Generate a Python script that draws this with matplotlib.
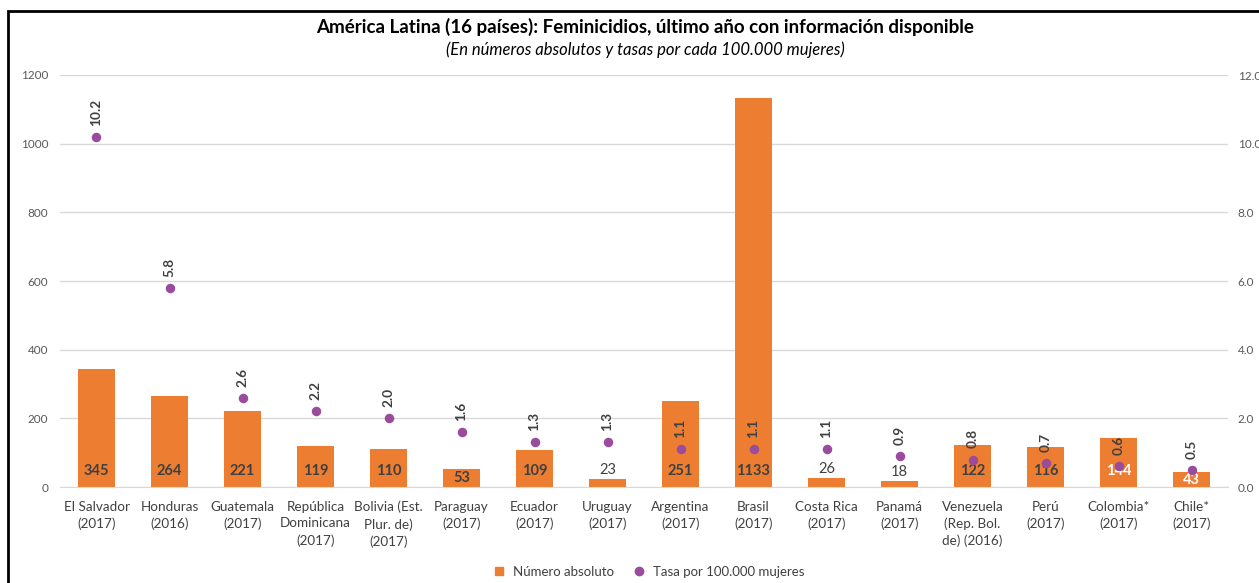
import matplotlib
matplotlib.use('Agg')
import matplotlib.pyplot as plt
from matplotlib.lines import Line2D
from matplotlib.patches import Rectangle

plt.rcParams['font.family'] = ['Lato', 'DejaVu Sans']

countries = ['El Salvador\n(2017)', 'Honduras\n(2016)', 'Guatemala\n(2017)',
             'República\nDominicana\n(2017)', 'Bolivia (Est.\nPlur. de)\n(2017)',
             'Paraguay\n(2017)', 'Ecuador\n(2017)', 'Uruguay\n(2017)',
             'Argentina\n(2017)', 'Brasil\n(2017)', 'Costa Rica\n(2017)',
             'Panamá\n(2017)', 'Venezuela\n(Rep. Bol.\nde) (2016)', 'Perú\n(2017)',
             'Colombia*\n(2017)', 'Chile*\n(2017)']
absolutos = [345, 264, 221, 119, 110, 53, 109, 23, 251, 1133, 26, 18, 122, 116, 144, 43]
tasas = [10.2, 5.8, 2.6, 2.2, 2.0, 1.6, 1.3, 1.3, 1.1, 1.1, 1.1, 0.9, 0.8, 0.7, 0.6, 0.5]
white_labels = ['Colombia*\n(2017)', 'Chile*\n(2017)']

ORANGE = '#ED7D31'
PURPLE = '#9A4C9C'
DARK = '#404040'
GRID = '#D9D9D9'

W, H = 1259, 583
fig = plt.figure(figsize=(W / 100, H / 100), dpi=100)
ax = fig.add_axes([60 / W, 1 - 487 / H, 1168 / W, 412 / H])
ax2 = ax.twinx()

x = list(range(len(countries)))
ax.bar(x, absolutos, width=0.5, color=ORANGE, zorder=2)
ax.set_xlim(-0.5, len(countries) - 0.5)
ax.set_ylim(0, 1200)
ax.set_yticks(range(0, 1201, 200))
ax.grid(axis='y', color=GRID, lw=1, zorder=0)
ax.set_axisbelow(True)
for s in ['top', 'right', 'left']:
    ax.spines[s].set_visible(False)
ax.spines['bottom'].set_color(GRID)
ax.tick_params(axis='y', length=0, labelsize=8.5, labelcolor='#595959', pad=8.5)
ax.tick_params(axis='x', length=0, pad=10)
ax.set_xticks(x)
ax.set_xticklabels(countries, fontsize=9.7, color=DARK, linespacing=1.45, va='top')

# bar labels
for xi, v, name in zip(x, absolutos, countries):
    if v < 30:
        ax.text(xi, v + 6, str(v), ha='center', va='bottom', fontsize=10.5, color=DARK, zorder=5)
    else:
        col = 'white' if name in white_labels else DARK
        ax.text(xi, min(47, v / 2), str(v), ha='center', va='center', fontsize=10.5,
                fontweight='bold', color=col, zorder=5)

ax2.scatter(x, tasas, s=34, color=PURPLE, zorder=4)
ax2.set_ylim(0, 12)
ax2.set_yticks([0, 2, 4, 6, 8, 10, 12])
ax2.set_yticklabels(['%.1f' % t for t in [0, 2, 4, 6, 8, 10, 12]])
for s in ['top', 'right', 'left', 'bottom']:
    ax2.spines[s].set_visible(False)
ax2.tick_params(axis='y', length=0, labelsize=8.5, labelcolor='#595959', pad=7)

for xi, t in zip(x, tasas):
    ax2.annotate('%.1f' % t, (xi, t), xytext=(0, 8), textcoords='offset points',
                 rotation=90, ha='center', va='bottom', fontsize=9.8,
                 fontweight='bold', color=DARK, zorder=6)

fig.text(645 / W, 1 - 27 / H, 'América Latina (16 países): Feminicidios, último año con información disponible',
         ha='center', va='center', fontsize=13.5, fontweight='bold', color='black')
fig.text(645 / W, 1 - 50 / H, '(En números absolutos y tasas por cada 100.000 mujeres)',
         ha='center', va='center', fontsize=12, style='italic', color='black')

handles = [Line2D([], [], marker='s', ls='', color=ORANGE, markersize=6),
           Line2D([], [], marker='o', ls='', color=PURPLE, markersize=6)]
fig.legend(handles, ['Número absoluto', 'Tasa por 100.000 mujeres'], loc='center',
           bbox_to_anchor=(645 / W, 1 - 572 / H), ncol=2, frameon=False, fontsize=9.5,
           handletextpad=0.05, columnspacing=0.9, labelcolor=DARK)

# outer chart frame
fig.patches.append(Rectangle((8 / W, -0.1), 1.2, 1.1 - 11 / H, transform=fig.transFigure,
                             fill=False, edgecolor='black', lw=2))

fig.savefig('out.png', dpi=100)
